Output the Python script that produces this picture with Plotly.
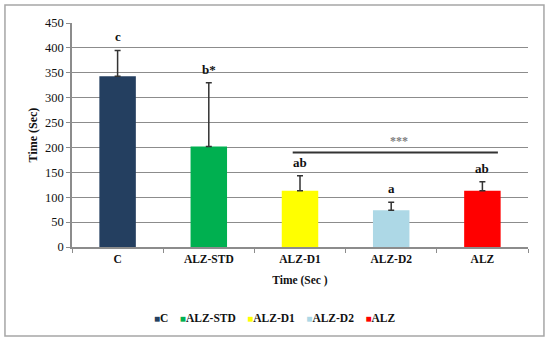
import plotly.graph_objects as go

categories = ["C", "ALZ-STD", "ALZ-D1", "ALZ-D2", "ALZ"]
means = [343, 202, 113, 74, 113]
errors = [52, 128, 30, 16, 18]
letters = ["c", "b*", "ab", "a", "ab"]
y_ticks = [0, 50, 100, 150, 200, 250, 300, 350, 400, 450]
sig_label = "***"
sig_span = [1.92, 4.17]
sig_level = 190

bar_colors = ["#243F60", "#00B050", "#FFFF00", "#ADD8E6", "#FF0000"]

FONT = "Liberation Serif, Times New Roman, serif"
fig = go.Figure()
for cat, m, e, col in zip(categories, means, errors, bar_colors):
    fig.add_trace(go.Bar(
        x=[cat], y=[m], name=cat, marker_color=col, marker_line_width=0,
        width=0.4,
        error_y=dict(type="data", array=[e], arrayminus=[0], symmetric=False,
                     color="#333333", thickness=1.5, width=3),
    ))

annotations = []
for cat, m, e, lab in zip(categories, means, errors, letters):
    annotations.append(dict(x=cat, y=m + e, text="<b>%s</b>" % lab, showarrow=False,
                            yanchor="bottom", yshift=4,
                            font=dict(family=FONT, size=13, color="#111")))
annotations.append(dict(x=sum(sig_span) / 2 + 0.04, y=sig_level, text="<b>%s</b>" % sig_label,
                        showarrow=False, yanchor="bottom", yshift=2,
                        font=dict(family=FONT, size=12, color="#808080")))

# legend row (compact, Excel style)
legend_parts = []
for cat, col in zip(categories, bar_colors):
    legend_parts.append('<span style="color:%s;font-size:10px">■</span><b>%s</b>' % (col, cat))
annotations.append(dict(xref="paper", yref="paper", x=0.443, y=-0.317, xanchor="center",
                        yanchor="middle", showarrow=False,
                        text="&nbsp;&nbsp;&nbsp;&nbsp;".join(legend_parts),
                        font=dict(family=FONT, size=11.5, color="#111")))

fig.add_shape(type="line", xref="x", yref="y", x0=sig_span[0], x1=sig_span[1],
              y0=sig_level, y1=sig_level, line=dict(color="#333333", width=2))
fig.add_shape(type="rect", xref="paper", yref="paper", x0=-0.147, x1=1.035,
              y0=-0.397, y1=1.080, line=dict(color="#a6a6a6", width=1.5))

fig.update_layout(
    width=550, height=342,
    margin=dict(l=72, r=22, t=23, b=95),
    paper_bgcolor="white", plot_bgcolor="white",
    barmode="overlay",
    font=dict(family=FONT, size=11, color="#111"),
    showlegend=False,
    annotations=annotations,
    xaxis=dict(type="category", showline=True, linecolor="#8c8c8c", linewidth=1.5,
               ticks="outside", tickson="boundaries", ticklen=4, tickcolor="#8c8c8c",
               tickfont=dict(family=FONT, size=11.5, color="#111"), automargin=False,
               title=dict(text="<b>Time (Sec )</b>", standoff=12,
                          font=dict(family=FONT, size=11.5, color="#111")),
               range=[-0.5, 4.5]),
    yaxis=dict(range=[0, 450], tickvals=y_ticks, showgrid=True, gridcolor="#8c8c8c",
               gridwidth=1.2, showline=True, linecolor="#8c8c8c", linewidth=1.5,
               ticks="outside", ticklen=4, tickcolor="#8c8c8c", zeroline=False,
               tickfont=dict(family=FONT, size=12.5, color="#111"), automargin=False,
               tickprefix="<b>", ticksuffix="</b>",
               title=dict(text="<b>Time (Sec)</b>", standoff=5,
                          font=dict(family=FONT, size=12, color="#111"))),
)
fig.update_xaxes(ticktext=["<b>%s</b>" % c for c in categories], tickvals=categories)
fig.write_html("out.html", config={"displayModeBar": False},
               post_script="document.body.style.margin='0px';")
